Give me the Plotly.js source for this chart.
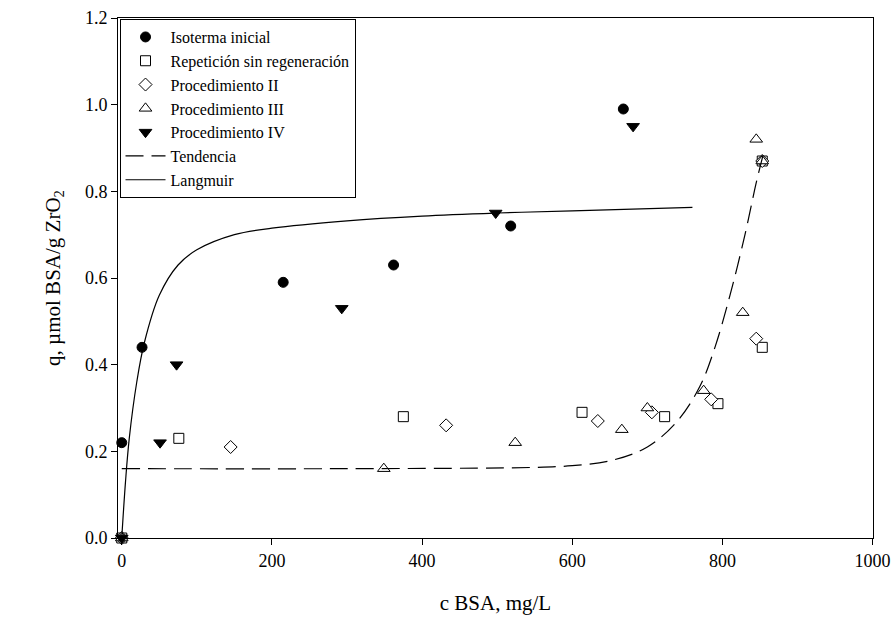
<!DOCTYPE html>
<html><head><meta charset="utf-8">
<script src="https://cdn.plot.ly/plotly-3.0.1.min.js"></script>
<style>body{margin:0}</style></head>
<body><div id="chart" style="width:893px;height:636px"></div>
<script>
var iniX = [0, 0, 27, 215, 362, 518, 668];
var iniY = [0, 0.22, 0.44, 0.59, 0.63, 0.72, 0.99];
var repX = [0, 76, 375, 613, 723, 794, 853, 853];
var repY = [0, 0.23, 0.28, 0.29, 0.28, 0.31, 0.44, 0.87];
var p2X = [0, 145, 432, 634, 706, 785, 845, 853];
var p2Y = [0, 0.21, 0.26, 0.27, 0.29, 0.32, 0.46, 0.87];
var p3X = [0, 349, 524, 666, 700, 775, 827, 845, 853];
var p3Y = [0, 0.16, 0.22, 0.25, 0.30, 0.34, 0.52, 0.92, 0.87];
var p4X = [0, 51, 73, 293, 498, 681];
var p4Y = [0, 0.22, 0.40, 0.53, 0.75, 0.95];
var tendX = [0, 300, 550, 600, 650, 700, 740, 770, 790, 810, 830, 845, 855];
var tendY = [0.16, 0.16, 0.163, 0.167, 0.178, 0.21, 0.27, 0.35, 0.44, 0.56, 0.70, 0.82, 0.89];
var langX = [0, 5, 10, 20, 30, 50, 75, 100, 150, 200, 300, 400, 500, 600, 760];
var langY = [0, 0.13, 0.23, 0.36, 0.45, 0.56, 0.63, 0.665, 0.70, 0.715, 0.732, 0.743, 0.75, 0.755, 0.763];

function pts(x, y, name, sym, fill) {
  return {x: x, y: y, mode: 'markers', type: 'scatter', name: name, cliponaxis: false,
    marker: {symbol: sym, size: sym.indexOf('triangle') >= 0 ? 11 : 10, color: fill ? 'black' : 'white',
      line: {color: 'black', width: 1}}};
}
var data = [
  pts(iniX, iniY, 'Isoterma inicial', 'circle', true),
  pts(repX, repY, 'Repetición sin regeneración', 'square', false),
  pts(p2X, p2Y, 'Procedimiento II', 'diamond', false),
  pts(p3X, p3Y, 'Procedimiento III', 'triangle-up', false),
  pts(p4X, p4Y, 'Procedimiento IV', 'triangle-down', true),
  {x: tendX, y: tendY, mode: 'lines', name: 'Tendencia', line: {color: 'black', width: 1.2, dash: '18px,8px', shape: 'spline'}},
  {x: langX, y: langY, mode: 'lines', name: 'Langmuir', line: {color: 'black', width: 1.2, shape: 'spline'}}
];
var ax = {showline: true, mirror: true, linecolor: 'black', linewidth: 1, ticks: 'outside',
  ticklen: 6, tickcolor: 'black', showgrid: false, zeroline: false, ticklabeloverflow: 'allow'};
var layout = {
  width: 893, height: 636, paper_bgcolor: 'white', plot_bgcolor: 'white',
  font: {family: 'Liberation Serif', size: 18, color: 'black'},
  margin: {l: 118, r: 20, t: 18, b: 98},
  xaxis: Object.assign({}, ax, {range: [-5, 1000.5], tickvals: [0, 200, 400, 600, 800, 1000],
    title: {text: 'c BSA, mg/L', font: {size: 21}, standoff: 25}}),
  yaxis: Object.assign({}, ax, {range: [0, 1.2], dtick: 0.2, tickformat: '.1f',
    title: {text: 'q, µmol BSA/g ZrO<sub>2</sub>', font: {size: 21}, standoff: 18}}),
  showlegend: true,
  legend: {x: 0.002, y: 0.998, xanchor: 'left', yanchor: 'top', bordercolor: 'black', borderwidth: 1,
    bgcolor: 'white', font: {size: 16}, tracegroupgap: 0, itemwidth: 40}
};
Plotly.newPlot('chart', data, layout, {displayModeBar: false});
</script></body></html>
